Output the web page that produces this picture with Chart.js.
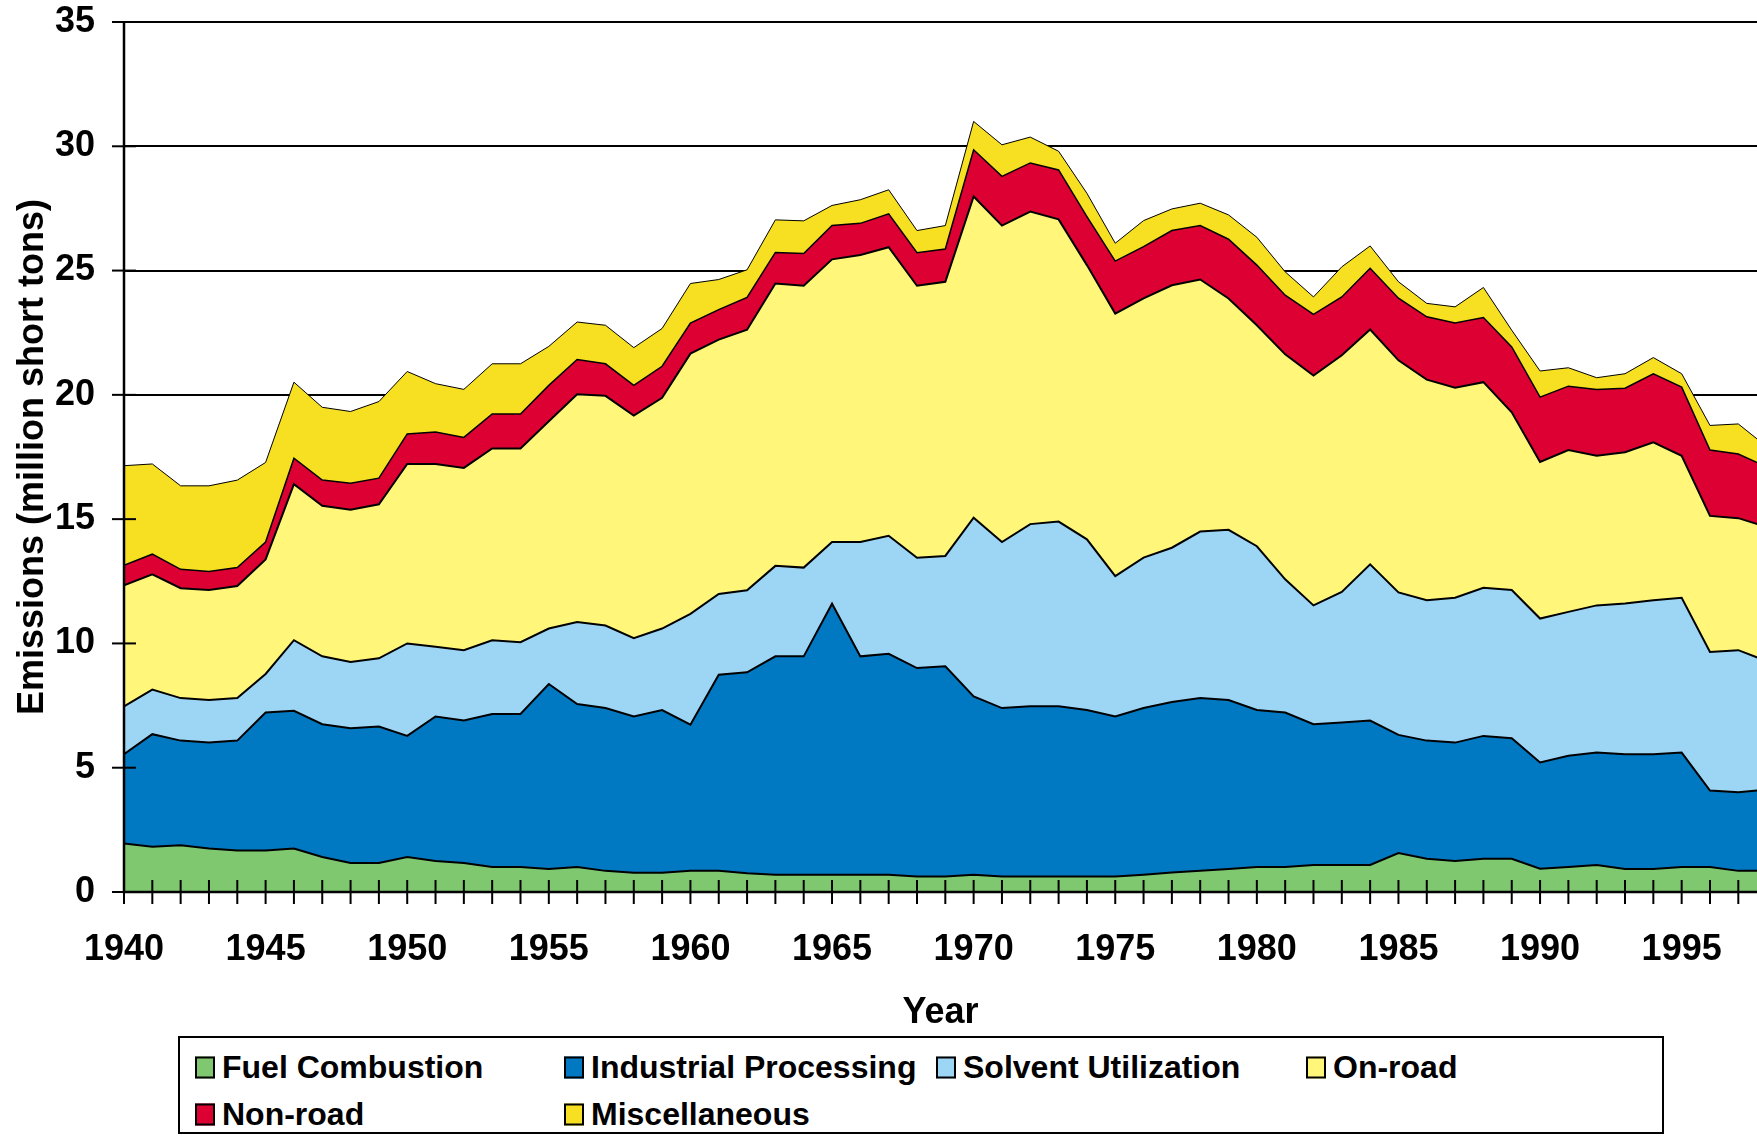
<!DOCTYPE html>
<html>
<head>
<meta charset="utf-8">
<title>Emissions by source category, 1940-1998</title>
<script src="https://cdn.jsdelivr.net/npm/chart.js@4/dist/chart.umd.min.js"></script>
<style>
    body { margin: 0; background: #fff; }
    #wrap { position: relative; width: 1757px; height: 1137px; overflow: hidden; }
    #chart { position: absolute; left: 0; top: 0; }
    #legend {
        position: absolute; left: 178px; top: 1036px; width: 1486px; height: 98px;
        box-sizing: border-box; border: 2px solid #000; background: #fff;
        font: bold 32px 'Liberation Sans', Arial, sans-serif; color: #000;
    }
    .item { position: absolute; display: flex; align-items: center; white-space: nowrap; transform: translateY(-50%); }
    .box { width: 16px; height: 18px; border: 2px solid #000; margin-right: 7px; }
</style>
</head>
<body>
<div id="wrap">
    <canvas id="chart" width="1757" height="1035"></canvas>
    <div id="legend"></div>
</div>
<script>
// values, million short tons
const years = [
    1940, 1941, 1942, 1943, 1944, 1945, 1946, 1947, 1948, 1949,
    1950, 1951, 1952, 1953, 1954, 1955, 1956, 1957, 1958, 1959,
    1960, 1961, 1962, 1963, 1964, 1965, 1966, 1967, 1968, 1969,
    1970, 1971, 1972, 1973, 1974, 1975, 1976, 1977, 1978, 1979,
    1980, 1981, 1982, 1983, 1984, 1985, 1986, 1987, 1988, 1989,
    1990, 1991, 1992, 1993, 1994, 1995, 1996, 1997, 1998
];
const fuelCombustion = [
    1.95, 1.82, 1.88, 1.75, 1.67, 1.67, 1.75, 1.41, 1.17, 1.17,
    1.41, 1.25, 1.17, 1.01, 1.01, 0.93, 1.01, 0.85, 0.77, 0.77,
    0.85, 0.85, 0.75, 0.69, 0.69, 0.69, 0.69, 0.69, 0.62, 0.62,
    0.69, 0.62, 0.62, 0.62, 0.62, 0.62, 0.69, 0.78, 0.85, 0.93,
    1.01, 1.01, 1.09, 1.09, 1.09, 1.57, 1.34, 1.25, 1.34, 1.34,
    0.94, 1.01, 1.09, 0.93, 0.93, 1.01, 1.01, 0.85, 0.85
];
const industrialProcessing = [
    3.59, 4.53, 4.21, 4.26, 4.42, 5.55, 5.54, 5.34, 5.42, 5.49,
    4.87, 5.81, 5.73, 6.15, 6.15, 7.44, 6.55, 6.55, 6.29, 6.55,
    5.88, 7.89, 8.09, 8.79, 8.79, 10.91, 8.79, 8.89, 8.39, 8.46,
    7.18, 6.78, 6.85, 6.85, 6.70, 6.44, 6.71, 6.86, 6.95, 6.79,
    6.31, 6.21, 5.66, 5.73, 5.81, 4.75, 4.75, 4.76, 4.94, 4.85,
    4.27, 4.47, 4.52, 4.61, 4.61, 4.60, 3.07, 3.16, 3.27
];
const solventUtilization = [
    1.93, 1.79, 1.71, 1.71, 1.71, 1.55, 2.84, 2.73, 2.66, 2.74,
    3.72, 2.81, 2.83, 2.97, 2.89, 2.23, 3.30, 3.32, 3.15, 3.28,
    4.46, 3.25, 3.30, 3.64, 3.57, 2.48, 4.60, 4.75, 4.44, 4.44,
    7.19, 6.68, 7.33, 7.43, 6.87, 5.65, 6.05, 6.21, 6.70, 6.85,
    6.59, 5.36, 4.78, 5.25, 6.28, 5.73, 5.65, 5.83, 5.96, 5.96,
    5.79, 5.79, 5.92, 6.07, 6.20, 6.23, 5.58, 5.72, 5.17
];
const onRoad = [
    4.87, 4.64, 4.42, 4.43, 4.51, 4.61, 6.28, 6.06, 6.13, 6.20,
    7.22, 7.35, 7.33, 7.71, 7.79, 8.34, 9.16, 9.24, 8.96, 9.28,
    10.47, 10.23, 10.48, 11.36, 11.34, 11.37, 11.55, 11.61, 10.94, 11.03,
    12.92, 12.73, 12.57, 12.16, 11.03, 10.56, 10.43, 10.56, 10.14, 9.31,
    8.89, 9.05, 9.25, 9.52, 9.45, 9.34, 8.87, 8.45, 8.27, 7.15,
    6.30, 6.51, 6.02, 6.08, 6.35, 5.71, 5.47, 5.31, 5.39
];
const nonRoad = [
    0.80, 0.81, 0.76, 0.74, 0.74, 0.70, 1.04, 1.03, 1.06, 1.05,
    1.21, 1.29, 1.23, 1.39, 1.39, 1.44, 1.40, 1.29, 1.21, 1.27,
    1.23, 1.21, 1.30, 1.25, 1.30, 1.36, 1.27, 1.34, 1.33, 1.32,
    1.88, 1.98, 1.96, 1.99, 1.95, 2.11, 2.08, 2.20, 2.17, 2.38,
    2.42, 2.38, 2.46, 2.35, 2.46, 2.50, 2.53, 2.60, 2.60, 2.63,
    2.61, 2.57, 2.67, 2.58, 2.76, 2.76, 2.65, 2.58, 2.42
];
const miscellaneous = [
    4.01, 3.63, 3.36, 3.45, 3.52, 3.20, 3.06, 2.93, 2.89, 3.08,
    2.51, 1.94, 1.93, 2.02, 2.02, 1.57, 1.51, 1.55, 1.52, 1.52,
    1.59, 1.21, 1.11, 1.31, 1.31, 0.81, 0.95, 0.97, 0.89, 0.94,
    1.14, 1.27, 1.04, 0.75, 0.94, 0.72, 1.05, 0.87, 0.90, 0.98,
    1.12, 0.94, 0.70, 1.21, 0.90, 0.66, 0.54, 0.65, 1.21, 0.67,
    1.05, 0.74, 0.47, 0.58, 0.65, 0.54, 0.99, 1.21, 0.82
];
const xTickYears = [1940, 1945, 1950, 1955, 1960, 1965, 1970, 1975, 1980, 1985, 1990, 1995];
const yTickValues = [0, 5, 10, 15, 20, 25, 30, 35];

document.addEventListener('DOMContentLoaded', () => {
    Chart.defaults.font.family = "'Liberation Sans', Arial, sans-serif";
    Chart.defaults.color = '#000';

    const boldFont = { size: 36, weight: 'bold' };

    function area(label, values, color, width, fill) {
        return {
            label: label,
            data: values,
            backgroundColor: color,
            borderColor: '#000',
            borderWidth: width,
            fill: fill,
            pointRadius: 0,
            tension: 0
        };
    }

    // tick marks that cross the axes, drawn over the areas like the original
    const axisMarks = {
        id: 'axisMarks',
        afterDatasetsDraw(chart) {
            const { ctx, chartArea, scales: { x, y } } = chart;
            ctx.save();
            ctx.strokeStyle = '#000';
            ctx.lineWidth = 2;
            years.forEach(yr => {
                const px = x.getPixelForValue(yr);
                if (px > chartArea.right + 1) return;
                ctx.beginPath();
                ctx.moveTo(px, chartArea.bottom - 12);
                ctx.lineTo(px, chartArea.bottom + 12);
                ctx.stroke();
            });
            yTickValues.forEach(v => {
                const py = y.getPixelForValue(v);
                ctx.beginPath();
                ctx.moveTo(chartArea.left - 12, py);
                ctx.lineTo(chartArea.left + 12, py);
                ctx.stroke();
            });
            ctx.lineWidth = 2.5;
            ctx.beginPath();
            ctx.moveTo(chartArea.left, chartArea.top);
            ctx.lineTo(chartArea.left, chartArea.bottom);
            ctx.lineTo(chartArea.right, chartArea.bottom);
            ctx.stroke();
            ctx.restore();
        }
    };

    const ctx = document.getElementById('chart').getContext('2d');
    const chart = new Chart(ctx, {
        type: 'line',
        data: {
            labels: years,
            datasets: [
                area('Fuel Combustion', fuelCombustion, '#80C870', 2, 'origin'),
                area('Industrial Processing', industrialProcessing, '#0078C2', 2, '-1'),
                area('Solvent Utilization', solventUtilization, '#9DD5F5', 2, '-1'),
                area('On-road', onRoad, '#FFF67A', 2, '-1'),
                area('Non-road', nonRoad, '#DD0033', 1.5, '-1'),
                area('Miscellaneous', miscellaneous, '#F7DF22', 1, '-1')
            ]
        },
        options: {
            responsive: false,
            animation: false,
            devicePixelRatio: 1,
            layout: { padding: { top: 22, right: 0, bottom: 0, left: 0 } },
            plugins: {
                legend: { display: false },
                tooltip: { enabled: false }
            },
            scales: {
                x: {
                    type: 'linear',
                    min: 1940,
                    max: 1997.66,
                    afterBuildTicks: scale => {
                        scale.ticks = xTickYears.map(v => ({ value: v }));
                    },
                    afterFit: scale => {
                        scale.height = 143;
                        scale.paddingLeft = 0;
                        scale.paddingRight = 0;
                    },
                    ticks: {
                        font: boldFont,
                        padding: 36,
                        maxRotation: 0,
                        autoSkip: false,
                        callback: value => String(value)
                    },
                    grid: { display: false, drawTicks: false },
                    border: { display: false },
                    title: {
                        display: true,
                        text: 'Year',
                        font: boldFont,
                        padding: { top: 0, bottom: 0 }
                    }
                },
                y: {
                    stacked: true,
                    min: 0,
                    max: 35,
                    afterBuildTicks: scale => {
                        scale.ticks = yTickValues.map(v => ({ value: v }));
                    },
                    afterFit: scale => {
                        scale.width = 124;
                        scale.paddingTop = 0;
                        scale.paddingBottom = 0;
                    },
                    ticks: { font: boldFont, padding: 29 },
                    grid: { color: '#000', lineWidth: 2, drawTicks: false },
                    border: { display: false },
                    title: {
                        display: true,
                        text: 'Emissions (million short tons)',
                        font: boldFont,
                        padding: { top: 11, bottom: 0 }
                    }
                }
            }
        },
        plugins: [axisMarks]
    });

    // legend box below the chart, four columns
    const legend = document.getElementById('legend');
    const colLeft = [15, 384, 756, 1126];
    const rowMid = [29, 76];
    chart.data.datasets.forEach((ds, i) => {
        const item = document.createElement('div');
        item.className = 'item';
        item.style.left = colLeft[i % 4] + 'px';
        item.style.top = rowMid[Math.floor(i / 4)] + 'px';
        const box = document.createElement('span');
        box.className = 'box';
        box.style.background = ds.backgroundColor;
        item.appendChild(box);
        item.appendChild(document.createTextNode(ds.label));
        legend.appendChild(item);
    });
});
</script>
</body>
</html>
